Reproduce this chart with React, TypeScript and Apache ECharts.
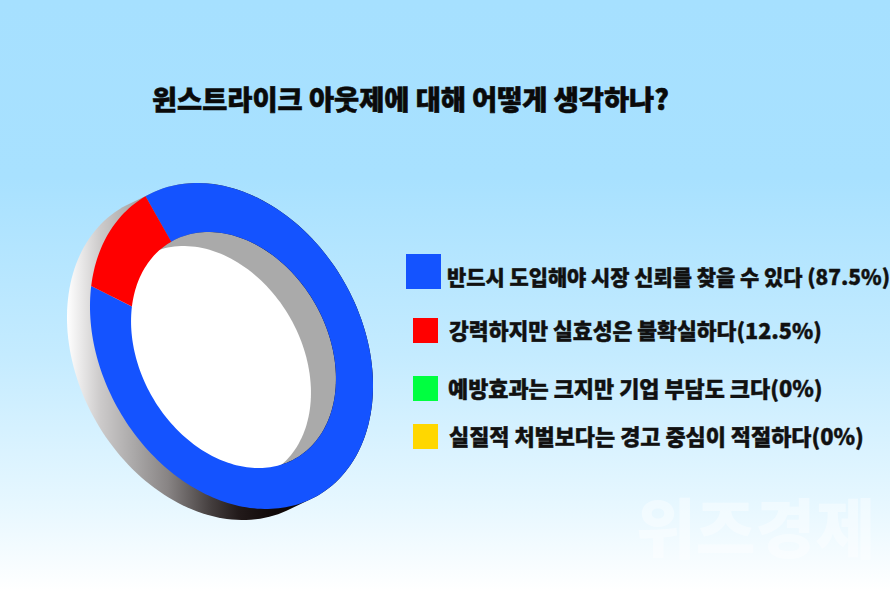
import React, { useEffect, useRef } from "react";
import * as echarts from "echarts";

const titleText = "윈스트라이크 아웃제에 대해 어떻게 생각하나?";
const categories = [
  "반드시 도입해야 시장 신뢰를 찾을 수 있다 (87.5%)",
  "강력하지만 실효성은 불확실하다(12.5%)",
  "예방효과는 크지만 기업 부담도 크다(0%)",
  "실질적 처벌보다는 경고 중심이 적절하다(0%)",
];
const shareValues = [87.5, 12.5, 0, 0];
const sliceColors = ["#1453ff", "#ff0000", "#00ff40", "#ffd700"];
const watermark = "위즈경제";

const W = 890;
const H = 591;
const TILT = (60.1 * Math.PI) / 180;
const A = 172.6;
const B = 129.6;
const C = [231.5, 346];
const HOLE_C = [233.5, 350];
const HOLE = 0.724;
const RIM = [-23, 11];
const WALL = [-25, 14];
const START = 180;

function pt(c: number[], a: number, b: number, deg: number) {
  const t = (deg * Math.PI) / 180;
  const u = a * Math.cos(t);
  const v = b * Math.sin(t);
  return [c[0] + u * Math.cos(TILT) - v * Math.sin(TILT), c[1] + u * Math.sin(TILT) + v * Math.cos(TILT)];
}

function ellipse(c: number[], a: number, b: number) {
  const out: number[][] = [];
  for (let d = 0; d < 360; d += 2) out.push(pt(c, a, b, d));
  return out;
}

function rimHull() {
  const out: number[][] = [];
  for (let d = 0; d < 360; d += 2) {
    const t = (d * Math.PI) / 180;
    // outward normal of the ellipse at this angle, in screen space
    const nu = Math.cos(t) / A;
    const nv = Math.sin(t) / B;
    const nx = nu * Math.cos(TILT) - nv * Math.sin(TILT);
    const ny = nu * Math.sin(TILT) + nv * Math.cos(TILT);
    const shifted = nx * RIM[0] + ny * RIM[1] > 0;
    out.push(pt(shifted ? [C[0] + RIM[0], C[1] + RIM[1]] : C, A, B, d));
  }
  return out;
}

function sliceStart(i: number) {
  const total = shareValues.reduce((s, v) => s + v, 0);
  let acc = 0;
  for (let k = 0; k < i; k++) acc += shareValues[k];
  return START + (acc / total) * 360;
}

const legendRows = [
  { x: 406, y: 254, s: 35, tx: 447, ty: 276, fs: 20.9 },
  { x: 413, y: 318, s: 25, tx: 449, ty: 329.5, fs: 21.55 },
  { x: 413, y: 376, s: 25, tx: 448, ty: 387.5, fs: 21.9 },
  { x: 413, y: 424, s: 25, tx: 449, ty: 435.5, fs: 21.9 },
];

const FONT = '"Noto Sans CJK KR", "Noto Sans", sans-serif';

export default function App() {
  const ref = useRef<HTMLDivElement>(null);
  useEffect(() => {
    document.body.style.margin = "0";
    const chart = echarts.init(ref.current!, undefined, { renderer: "svg" });
    const total = shareValues.reduce((s, v) => s + v, 0);
    chart.setOption({
      animation: false,
      backgroundColor: new echarts.graphic.LinearGradient(0, 0, 0, 1, [
        { offset: 0, color: "#a6e0ff" },
        { offset: 0.3, color: "#a8e1ff" },
        { offset: 0.6, color: "#c4ebff" },
        { offset: 0.85, color: "#e6f7ff" },
        { offset: 1, color: "#ffffff" },
      ]),
      title: {
        text: titleText,
        left: 147,
        top: 79,
        textStyle: {
          fontFamily: FONT,
          fontSize: 27.3,
          fontWeight: 900,
          color: "#0a0a0a",
          textBorderColor: "#0a0a0a",
          textBorderWidth: 0.6,
        },
      },
      graphic: [
        {
          type: "polygon",
          z: 0,
          silent: true,
          shape: { points: rimHull() },
          style: {
            fill: new echarts.graphic.LinearGradient(0, 0, 1, 0, [
              { offset: 0, color: "#ffffff" },
              { offset: 0.11, color: "#cccaca" },
              { offset: 0.22, color: "#aaa8a8" },
              { offset: 0.33, color: "#888484" },
              { offset: 0.47, color: "#443e3e" },
              { offset: 0.56, color: "#221a1a" },
              { offset: 0.68, color: "#100808" },
              { offset: 1, color: "#100808" },
            ]),
          },
        },
        {
          type: "polygon",
          z: 0,
          silent: true,
          shape: { points: ellipse(HOLE_C, A * HOLE, B * HOLE) },
          style: { fill: "#aaaaaa" },
        },
        {
          type: "polygon",
          z: 0,
          silent: true,
          shape: { points: ellipse([HOLE_C[0] + WALL[0], HOLE_C[1] + WALL[1]], A * HOLE, B * HOLE) },
          style: { fill: "#ffffff" },
        },
        ...legendRows.flatMap((r, i) => [
          { type: "rect", z: 5, shape: { x: r.x, y: r.y, width: r.s, height: r.s }, style: { fill: sliceColors[i] } },
          {
            type: "text",
            z: 5,
            x: r.tx,
            y: r.ty,
            style: {
              text: categories[i],
              font: `900 ${r.fs}px ${FONT}`,
              fill: "#111111",
              stroke: "#111111",
              lineWidth: 0.4,
              textVerticalAlign: "middle",
              verticalAlign: "middle",
            },
          },
        ]),
        {
          type: "text",
          z: 1,
          x: 636,
          y: 525,
          style: {
            text: watermark,
            font: `900 65px ${FONT}`,
            fill: "rgba(255,255,255,0.4)",
            verticalAlign: "middle",
          },
        },
      ],
      series: [
        {
          type: "custom",
          coordinateSystem: "none",
          silent: true,
          z: 3,
          data: shareValues,
          renderItem: (params: any, api: any) => {
            const i = params.dataIndex;
            const v = api.value(0);
            if (!v) return null;
            const s = sliceStart(i);
            const e = s + (v / total) * 360;
            const pts: number[][] = [];
            for (let d = s; d < e; d += 1.5) pts.push(pt(C, A, B, d));
            pts.push(pt(C, A, B, e));
            for (let d = e; d > s; d -= 1.5) pts.push(pt(HOLE_C, A * HOLE, B * HOLE, d));
            pts.push(pt(HOLE_C, A * HOLE, B * HOLE, s));
            return { type: "polygon", shape: { points: pts }, style: { fill: sliceColors[i] } };
          },
        },
      ],
    });
    return () => chart.dispose();
  }, []);
  return <div ref={ref} style={{ width: W, height: H }} />;
}
